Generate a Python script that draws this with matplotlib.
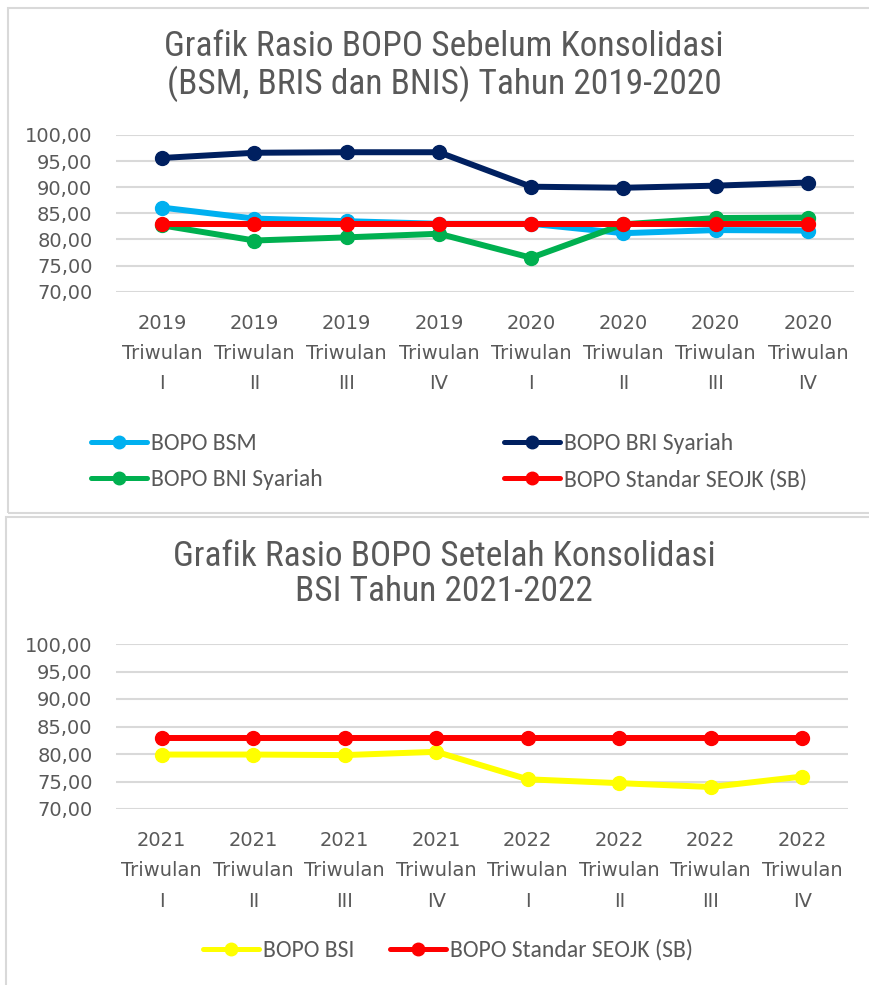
import matplotlib
matplotlib.use('Agg')
import matplotlib.pyplot as plt
import numpy as np
from matplotlib.lines import Line2D
from matplotlib.patches import Rectangle

# data
labels_top = ['2019\nTriwulan\nI', '2019\nTriwulan\nII', '2019\nTriwulan\nIII', '2019\nTriwulan\nIV',
              '2020\nTriwulan\nI', '2020\nTriwulan\nII', '2020\nTriwulan\nIII', '2020\nTriwulan\nIV']
labels_bot = ['2021\nTriwulan\nI', '2021\nTriwulan\nII', '2021\nTriwulan\nIII', '2021\nTriwulan\nIV',
              '2022\nTriwulan\nI', '2022\nTriwulan\nII', '2022\nTriwulan\nIII', '2022\nTriwulan\nIV']

bopo_bsm = [86.1, 84.0, 83.5, 83.0, 83.0, 81.2, 81.8, 81.7]
bopo_bris = [95.6, 96.6, 96.7, 96.7, 90.1, 89.9, 90.3, 90.9]
bopo_bnis = [82.7, 79.8, 80.4, 81.1, 76.5, 82.9, 84.1, 84.2]
bopo_std_top = [83.0, 83.0, 83.0, 83.0, 83.0, 83.0, 83.0, 83.0]

bopo_bsi = [79.9, 79.9, 79.8, 80.4, 75.4, 74.7, 74.0, 75.9]
bopo_std_bot = [83.0, 83.0, 83.0, 83.0, 83.0, 83.0, 83.0, 83.0]

yticks = [70, 75, 80, 85, 90, 95, 100]

GREY = '#595959'
GRID = '#D9D9D9'
NARROW = ['Roboto Condensed', 'Liberation Sans Narrow', 'Lato', 'DejaVu Sans']
LEGFONT = ['Carlito', 'Lato', 'DejaVu Sans']

W, H = 869, 985
fig = plt.figure(figsize=(W / 100, H / 100), dpi=100)

# panel frames
fig.add_artist(Rectangle((8 / W, 1 - 513 / H), 2, (513 - 8) / H, transform=fig.transFigure,
                         fill=False, edgecolor=GRID, linewidth=1.5))
fig.add_artist(Rectangle((6 / W, -0.1), 2, 1 - 517 / H + 0.1, transform=fig.transFigure,
                         fill=False, edgecolor=GRID, linewidth=1.5))


def style_axis(ax, labels):
    ax.set_ylim(70, 100)
    ax.set_xlim(-0.5, len(labels) - 0.5)
    ax.set_yticks(yticks)
    ax.set_yticklabels(['{:.2f}'.format(v).replace('.', ',') for v in yticks])
    ax.set_xticks(range(len(labels)))
    ax.set_xticklabels(labels, linespacing=1.75)
    ax.tick_params(axis='both', length=0, labelsize=14, colors=GREY)
    ax.tick_params(axis='y', pad=17)
    ax.tick_params(axis='x', pad=16)
    ax.grid(axis='y', color=GRID, linewidth=1.5)
    ax.set_axisbelow(True)
    for s in ax.spines.values():
        s.set_visible(False)


def series(ax, x, y, color):
    ax.plot(x, y, color=color, linewidth=4.3, marker='o', markersize=10,
            solid_capstyle='round', clip_on=False)


def handle(color):
    return Line2D([], [], color=color, linewidth=3.6, marker='o', markersize=9,
                  solid_capstyle='round')


# top chart
ax1 = fig.add_axes([116 / W, 1 - 291.7 / H, (854 - 116) / W, 156.7 / H])
x = np.arange(len(labels_top))
series(ax1, x, bopo_bsm, '#00B0F0')
series(ax1, x, bopo_bris, '#002060')
series(ax1, x, bopo_bnis, '#00B050')
series(ax1, x, bopo_std_top, '#FF0000')
style_axis(ax1, labels_top)

fig.text(444 / W, 1 - 66 / H, 'Grafik Rasio BOPO Sebelum Konsolidasi\n(BSM, BRIS dan BNIS) Tahun 2019-2020',
         ha='center', va='center', fontsize=25.5, color=GREY, family=NARROW, linespacing=1.1)

leg1 = fig.legend([handle('#00B0F0'), handle('#00B050'), handle('#002060'), handle('#FF0000')],
                  ['BOPO BSM', 'BOPO BNI Syariah', 'BOPO BRI Syariah', 'BOPO Standar SEOJK (SB)'],
                  ncol=2, loc='center', bbox_to_anchor=(449 / W, 1 - 462 / H), frameon=False,
                  handlelength=2.37, handletextpad=0.17, columnspacing=7.7, labelspacing=0.62,
                  prop={'family': LEGFONT, 'size': 17})
for t in leg1.get_texts():
    t.set_color(GREY)

# bottom chart
ax2 = fig.add_axes([116 / W, 1 - 809 / H, (848 - 116) / W, 165 / H])
x2 = np.arange(len(labels_bot))
series(ax2, x2, bopo_bsi, '#FFFF00')
series(ax2, x2, bopo_std_bot, '#FF0000')
style_axis(ax2, labels_bot)

fig.text(444 / W, 1 - 574 / H, 'Grafik Rasio BOPO Setelah Konsolidasi\nBSI Tahun 2021-2022',
         ha='center', va='center', fontsize=25.5, color=GREY, family=NARROW, linespacing=1.1)

leg2 = fig.legend([handle('#FFFF00'), handle('#FF0000')],
                  ['BOPO BSI', 'BOPO Standar SEOJK (SB)'],
                  ncol=2, loc='center', bbox_to_anchor=(448 / W, 1 - 950 / H), frameon=False,
                  handlelength=2.37, handletextpad=0.17, columnspacing=1.5,
                  prop={'family': LEGFONT, 'size': 17})
for t in leg2.get_texts():
    t.set_color(GREY)

fig.savefig('out.png', dpi=100)
